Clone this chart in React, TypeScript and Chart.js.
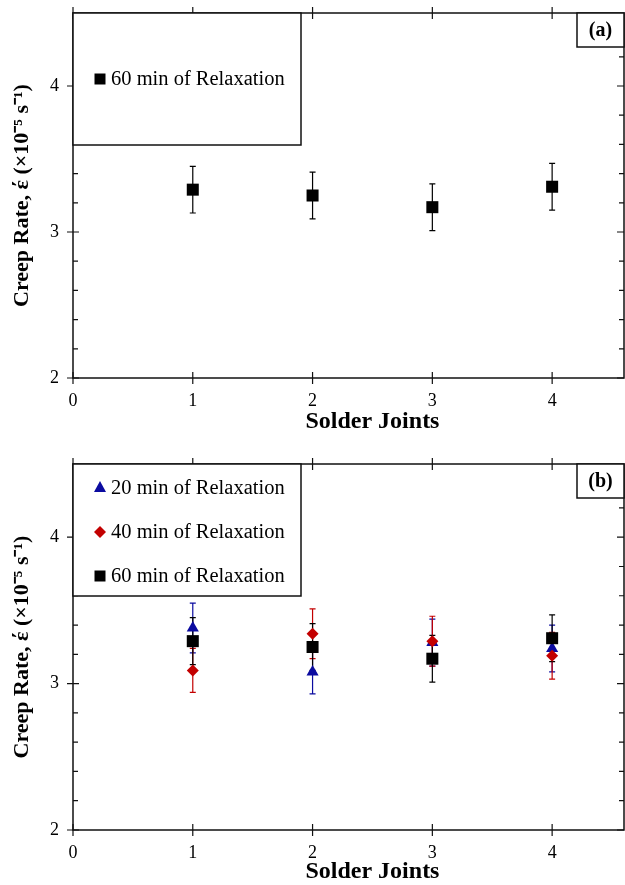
import React, { useEffect, useRef } from 'react';
import { Chart, registerables } from 'chart.js';

Chart.register(...registerables);

// ---- data ----
const joints = [1, 2, 3, 4];
const rate20 = [3.38, 3.08, 3.28, 3.24];
const err20 = [0.17, 0.15, 0.16, 0.16];
const rate40 = [3.09, 3.34, 3.29, 3.19];
const err40 = [0.15, 0.17, 0.17, 0.16];
const rate60 = [3.29, 3.25, 3.17, 3.31];
const err60 = [0.16, 0.16, 0.16, 0.16];
const xTickValues = [0, 1, 2, 3, 4];
const yTickValues = [2, 3, 4];
const yMinorCount = 5; // minor divisions per unit

const X_MIN = 0;
const X_MAX = 4.6;
const Y_MIN = 2;
const Y_MAX = 4.5;

const BLUE = '#0b0ba0';
const RED = '#c30000';
const BLACK = '#000000';
const SERIF = '"Liberation Serif", "Times New Roman", serif';
const Y_TITLE = 'Creep Rate, έ (×10⁻⁵ s⁻¹)';
const X_TITLE = 'Solder Joints';

type Shape = 'triangle' | 'rectRot' | 'rect';
type Series = {
  label: string;
  values: number[];
  errors: number[];
  color: string;
  shape: Shape;
  radius: number;
  order: number;
};

const s20: Series = { label: '20 min of Relaxation', values: rate20, errors: err20, color: BLUE, shape: 'triangle', radius: 7, order: 3 };
const s40: Series = { label: '40 min of Relaxation', values: rate40, errors: err40, color: RED, shape: 'rectRot', radius: 6, order: 2 };
const s60: Series = { label: '60 min of Relaxation', values: rate60, errors: err60, color: BLACK, shape: 'rect', radius: 8.5, order: 1 };

function drawMarker(ctx: CanvasRenderingContext2D, shape: Shape, x: number, y: number, color: string) {
  ctx.save();
  ctx.fillStyle = color;
  ctx.beginPath();
  if (shape === 'rect') {
    ctx.rect(x - 5.5, y - 5.5, 11, 11);
  } else if (shape === 'triangle') {
    ctx.moveTo(x, y - 7);
    ctx.lineTo(x + 6, y + 4);
    ctx.lineTo(x - 6, y + 4);
    ctx.closePath();
  } else {
    ctx.moveTo(x, y - 6);
    ctx.lineTo(x + 6, y);
    ctx.lineTo(x, y + 6);
    ctx.lineTo(x - 6, y);
    ctx.closePath();
  }
  ctx.fill();
  ctx.restore();
}

type PanelProps = {
  tag: string;
  series: Series[];
  height: number;
  padTop: number;
  axisHeight: number;
  titleOffset: number;
  legendHeight: number;
  legendRows: number[];
};

function zeroPadding(s: any) {
  s.paddingTop = 0;
  s.paddingBottom = 0;
  s.paddingLeft = 0;
  s.paddingRight = 0;
}

function Panel(props: PanelProps) {
  const ref = useRef<HTMLCanvasElement>(null);
  useEffect(() => {
    document.body.style.margin = '0';
    const canvas = ref.current!;
    const { tag, series, padTop, axisHeight, titleOffset, legendHeight, legendRows } = props;

    const deco = {
      id: 'deco',
      beforeDatasetsDraw(chart: any) {
        const ctx: CanvasRenderingContext2D = chart.ctx;
        const ys = chart.scales.y;
        const metas = chart.getSortedVisibleDatasetMetas().slice().reverse();
        metas.forEach((meta: any) => {
          const ds: any = chart.data.datasets[meta.index];
          ctx.save();
          ctx.strokeStyle = ds.borderColor;
          ctx.lineWidth = 1.2;
          meta.data.forEach((el: any, i: number) => {
            const v = ds.data[i].y;
            const e = ds.errors[i];
            const yt = ys.getPixelForValue(v + e);
            const yb = ys.getPixelForValue(v - e);
            ctx.beginPath();
            ctx.moveTo(el.x, yt);
            ctx.lineTo(el.x, yb);
            ctx.moveTo(el.x - 3, yt);
            ctx.lineTo(el.x + 3, yt);
            ctx.moveTo(el.x - 3, yb);
            ctx.lineTo(el.x + 3, yb);
            ctx.stroke();
          });
          ctx.restore();
        });
      },
      afterDraw(chart: any) {
        const ctx: CanvasRenderingContext2D = chart.ctx;
        const a = chart.chartArea;
        const xs = chart.scales.x;
        const ys = chart.scales.y;
        ctx.save();
        ctx.strokeStyle = '#111';
        ctx.lineWidth = 1.5;
        ctx.strokeRect(a.left, a.top, a.right - a.left, a.bottom - a.top);
        ctx.lineWidth = 1.2;
        ctx.beginPath();
        // x ticks
        xTickValues.forEach((v) => {
          const px = xs.getPixelForValue(v);
          ctx.moveTo(px, a.bottom - 6);
          ctx.lineTo(px, a.bottom + 6);
          ctx.moveTo(px, a.top - 6);
          ctx.lineTo(px, a.top + 6);
        });
        // y ticks (major + minor)
        for (let k = 0; k <= (Y_MAX - Y_MIN) * yMinorCount; k++) {
          const v = Y_MIN + k / yMinorCount;
          if (v > Y_MAX + 1e-9) break;
          const py = ys.getPixelForValue(v);
          const major = k % yMinorCount === 0;
          if (major) {
            ctx.moveTo(a.left - 6, py);
            ctx.lineTo(a.left + 6, py);
            ctx.moveTo(a.right - 7, py);
            ctx.lineTo(a.right, py);
          } else {
            ctx.moveTo(a.left, py);
            ctx.lineTo(a.left + 5, py);
            ctx.moveTo(a.right - 5, py);
            ctx.lineTo(a.right, py);
          }
        }
        ctx.stroke();

        // x axis title
        ctx.fillStyle = '#000';
        ctx.font = `bold 24px ${SERIF}`;
        ctx.textAlign = 'center';
        ctx.textBaseline = 'middle';
        ctx.fillText(X_TITLE, xs.getPixelForValue(2.5), a.bottom + titleOffset);

        // legend box
        ctx.fillStyle = '#fff';
        ctx.fillRect(a.left, a.top, 228, legendHeight);
        ctx.lineWidth = 1.5;
        ctx.strokeRect(a.left, a.top, 228, legendHeight);
        ctx.font = `20.5px ${SERIF}`;
        ctx.textBaseline = 'middle';
        ctx.textAlign = 'left';
        series.forEach((s, i) => {
          const yy = a.top + legendRows[i];
          drawMarker(ctx, s.shape, a.left + 27, yy, s.color);
          ctx.fillStyle = '#000';
          ctx.fillText(s.label, a.left + 38, yy + 1);
        });

        // panel tag
        const bw = 47;
        const bh = 34;
        ctx.fillStyle = '#fff';
        ctx.fillRect(a.right - bw, a.top, bw, bh);
        ctx.strokeRect(a.right - bw, a.top, bw, bh);
        ctx.fillStyle = '#000';
        ctx.font = `bold 20px ${SERIF}`;
        ctx.textAlign = 'center';
        ctx.fillText(tag, a.right - bw / 2, a.top + bh / 2 + 1);
        ctx.restore();
      },
    };

    const chart = new Chart(canvas, {
      type: 'scatter',
      data: {
        datasets: series.map((s) => ({
          label: s.label,
          data: joints.map((j, i) => ({ x: j, y: s.values[i] })),
          errors: s.errors,
          pointStyle: s.shape,
          pointRadius: s.radius,
          pointHoverRadius: s.radius,
          backgroundColor: s.color,
          borderColor: s.color,
          pointBorderWidth: 0,
          order: s.order,
          showLine: false,
        })) as any,
      },
      options: {
        responsive: false,
        animation: false,
        devicePixelRatio: 1,
        events: [],
        layout: { autoPadding: false, padding: { top: padTop, right: 1, left: 0, bottom: 0 } },
        plugins: { legend: { display: false }, tooltip: { enabled: false } },
        scales: {
          x: {
            type: 'linear',
            min: X_MIN,
            max: X_MAX,
            grid: { display: false, drawTicks: false },
            border: { display: false },
            afterBuildTicks: (s: any) => {
              s.ticks = xTickValues.map((v) => ({ value: v }));
            },
            afterFit: (s: any) => {
              s.height = axisHeight;
              zeroPadding(s);
            },
            ticks: { padding: 12, color: '#000', maxRotation: 0, font: { family: SERIF, size: 18 } },
            title: { display: false },
          },
          y: {
            type: 'linear',
            min: Y_MIN,
            max: Y_MAX,
            grid: { display: false, drawTicks: false },
            border: { display: false },
            afterBuildTicks: (s: any) => {
              s.ticks = yTickValues.map((v) => ({ value: v }));
            },
            afterFit: (s: any) => {
              s.width = 73;
              zeroPadding(s);
            },
            ticks: { padding: 14, color: '#000', font: { family: SERIF, size: 18 } },
            title: {
              display: true,
              text: Y_TITLE,
              color: '#000',
              font: { family: SERIF, size: 22, weight: 'bold' },
              padding: { top: 9, bottom: 0 },
            },
          },
        },
      } as any,
      plugins: [deco],
    });
    return () => chart.destroy();
  }, []);
  return <canvas ref={ref} width={625} height={props.height} style={{ display: 'block' }} />;
}

export default function App() {
  return (
    <div style={{ width: 625, height: 885, background: '#fff' }}>
      <Panel tag="(a)" series={[s60]} height={442} padTop={13} axisHeight={64} titleOffset={44} legendHeight={132} legendRows={[66]} />
      <Panel tag="(b)" series={[s20, s40, s60]} height={443} padTop={22} axisHeight={55} titleOffset={42} legendHeight={132} legendRows={[24, 68, 112]} />
    </div>
  );
}
